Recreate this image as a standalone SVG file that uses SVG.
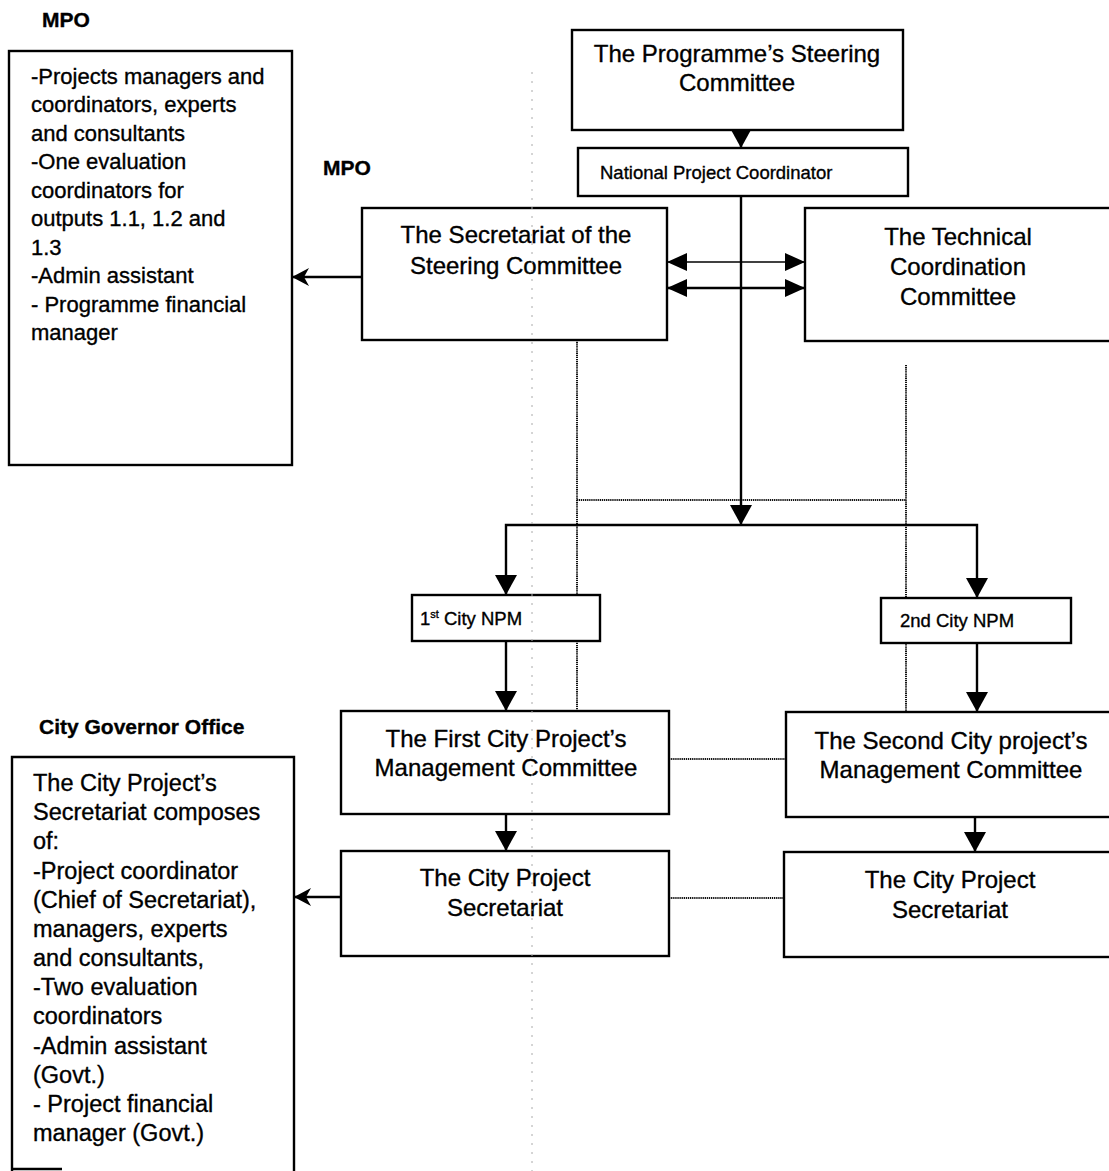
<svg xmlns="http://www.w3.org/2000/svg" width="1109" height="1171" viewBox="0 0 1109 1171">
<style>
.box{fill:#fff;stroke:#000;stroke-width:2.4}
.t{font-family:"Liberation Sans",Arial,sans-serif;fill:#000;stroke:#000;stroke-width:0.35}
.title{font-size:24px;text-anchor:middle}
.list{font-size:22px}
.list2{font-size:23.5px}
.small{font-size:18.5px}
.lbl{font-size:21px;font-weight:bold}
.conn{stroke:#000;stroke-width:2.4;fill:none}
.thin{stroke:#000;stroke-width:1.4;fill:none}
.dot{stroke:#111;stroke-width:2;stroke-dasharray:1.3 0.8;fill:none}
.faint{stroke:#aaa;stroke-width:1;stroke-dasharray:2 7;fill:none}
</style>
<defs>
<marker id="tri" markerUnits="userSpaceOnUse" markerWidth="20" markerHeight="22" refX="20" refY="11" orient="auto-start-reverse" viewBox="0 0 20 22">
<path d="M0,0 L20,11 L0,22 z" fill="#000"/>
</marker>
<marker id="tri2" markerUnits="userSpaceOnUse" markerWidth="20" markerHeight="18" refX="20" refY="9" orient="auto-start-reverse" viewBox="0 0 20 18">
<path d="M0,0 L20,9 L0,18 z" fill="#000"/>
</marker>
<marker id="barb" markerUnits="userSpaceOnUse" markerWidth="17" markerHeight="18" refX="17" refY="9" orient="auto" viewBox="0 0 17 18">
<path d="M0,0 L17,9 L0,18 L5,9 z" fill="#000"/>
</marker>
</defs>

<g id="connectors">
<polyline class="dot" points="577,340 577,500 906,500"/>
<line class="dot" x1="577" y1="500" x2="577" y2="711"/>
<line class="dot" x1="906" y1="365" x2="906" y2="712"/>
<line class="dot" x1="669" y1="759" x2="786" y2="759"/>
<line class="dot" x1="669" y1="898" x2="784" y2="898"/>
<line class="conn" x1="741" y1="130" x2="741" y2="148" marker-end="url(#tri)"/>
<line class="conn" x1="741" y1="196" x2="741" y2="525" marker-end="url(#tri)"/>
<polyline class="conn" points="506,595 506,525 977,525 977,598" marker-start="url(#tri)" marker-end="url(#tri)"/>
<line class="conn" x1="506" y1="641" x2="506" y2="711" marker-end="url(#tri)"/>
<line class="conn" x1="977" y1="643" x2="977" y2="712" marker-end="url(#tri)"/>
<line class="conn" x1="506" y1="814" x2="506" y2="851" marker-end="url(#tri)"/>
<line class="conn" x1="975" y1="817" x2="975" y2="852" marker-end="url(#tri)"/>
<line class="thin" x1="667" y1="262" x2="805" y2="262" marker-start="url(#tri2)" marker-end="url(#tri2)"/>
<line class="conn" x1="667" y1="288" x2="805" y2="288" marker-start="url(#tri2)" marker-end="url(#tri2)"/>
<line class="conn" x1="362" y1="277" x2="292" y2="277" marker-end="url(#barb)"/>
<line class="conn" x1="341" y1="897" x2="294" y2="897" marker-end="url(#barb)"/>
</g>

<g id="mpo-left">
<text class="t lbl" x="42" y="27">MPO</text>
<rect class="box" x="9" y="51" width="283" height="414"/>
<text class="t list" x="31" y="84">-Projects managers and</text>
<text class="t list" x="31" y="112.4">coordinators, experts</text>
<text class="t list" x="31" y="140.9">and consultants</text>
<text class="t list" x="31" y="169.3">-One evaluation</text>
<text class="t list" x="31" y="197.8">coordinators for</text>
<text class="t list" x="31" y="226.2">outputs 1.1, 1.2 and</text>
<text class="t list" x="31" y="254.6">1.3</text>
<text class="t list" x="31" y="283.1">-Admin assistant</text>
<text class="t list" x="31" y="311.5">- Programme financial</text>
<text class="t list" x="31" y="340">manager</text>
</g>

<g id="mpo-label">
<text class="t lbl" x="323" y="175">MPO</text>
</g>

<g id="steering">
<rect class="box" x="572" y="30" width="331" height="100"/>
<text class="t title" x="737" y="62">The Programme’s Steering</text>
<text class="t title" x="737" y="91">Committee</text>
</g>

<g id="npc">
<rect class="box" x="578" y="148" width="330" height="48"/>
<text class="t small" x="600" y="179">National Project Coordinator</text>
</g>

<g id="secretariat">
<rect class="box" x="362" y="208" width="305" height="132"/>
<text class="t title" x="516" y="243">The Secretariat of the</text>
<text class="t title" x="516" y="274">Steering Committee</text>
</g>

<g id="technical">
<rect class="box" x="805" y="208" width="310" height="133"/>
<text class="t title" x="958" y="245">The Technical</text>
<text class="t title" x="958" y="275">Coordination</text>
<text class="t title" x="958" y="305">Committee</text>
</g>

<g id="npm1">
<rect class="box" x="412" y="595" width="188" height="46"/>
<text class="t small" x="420" y="625">1<tspan font-size="11" dy="-7">st</tspan><tspan dy="7"> City NPM</tspan></text>
</g>

<g id="npm2">
<rect class="box" x="881" y="598" width="190" height="45"/>
<text class="t small" x="900" y="627">2nd City NPM</text>
</g>

<g id="mgmt1">
<rect class="box" x="341" y="711" width="328" height="103"/>
<text class="t title" x="506" y="747">The First City Project’s</text>
<text class="t title" x="506" y="776">Management Committee</text>
</g>

<g id="mgmt2">
<rect class="box" x="786" y="712" width="330" height="105"/>
<text class="t title" x="951" y="749">The Second City project’s</text>
<text class="t title" x="951" y="778">Management Committee</text>
</g>

<g id="cps1">
<rect class="box" x="341" y="851" width="328" height="105"/>
<text class="t title" x="505" y="886">The City Project</text>
<text class="t title" x="505" y="916">Secretariat</text>
</g>

<g id="cps2">
<rect class="box" x="784" y="852" width="330" height="105"/>
<text class="t title" x="950" y="888">The City Project</text>
<text class="t title" x="950" y="918">Secretariat</text>
</g>

<g id="city-governor">
<text class="t lbl" x="39" y="734">City Governor Office</text>
<path class="conn" d="M12,1175 L12,757 L294,757 L294,1175"/>
<line class="conn" x1="12" y1="1169" x2="62" y2="1169"/>
<text class="t list2" x="33" y="791">The City Project’s</text>
<text class="t list2" x="33" y="820.2">Secretariat composes</text>
<text class="t list2" x="33" y="849.3">of:</text>
<text class="t list2" x="33" y="878.5">-Project coordinator</text>
<text class="t list2" x="33" y="907.7">(Chief of Secretariat),</text>
<text class="t list2" x="33" y="936.9">managers, experts</text>
<text class="t list2" x="33" y="966">and consultants,</text>
<text class="t list2" x="33" y="995.2">-Two evaluation</text>
<text class="t list2" x="33" y="1024.4">coordinators</text>
<text class="t list2" x="33" y="1053.5">-Admin assistant</text>
<text class="t list2" x="33" y="1082.7">(Govt.)</text>
<text class="t list2" x="33" y="1111.9">- Project financial</text>
<text class="t list2" x="33" y="1141">manager (Govt.)</text>
</g>

<line class="faint" x1="532" y1="72" x2="532" y2="1171"/>
</svg>
